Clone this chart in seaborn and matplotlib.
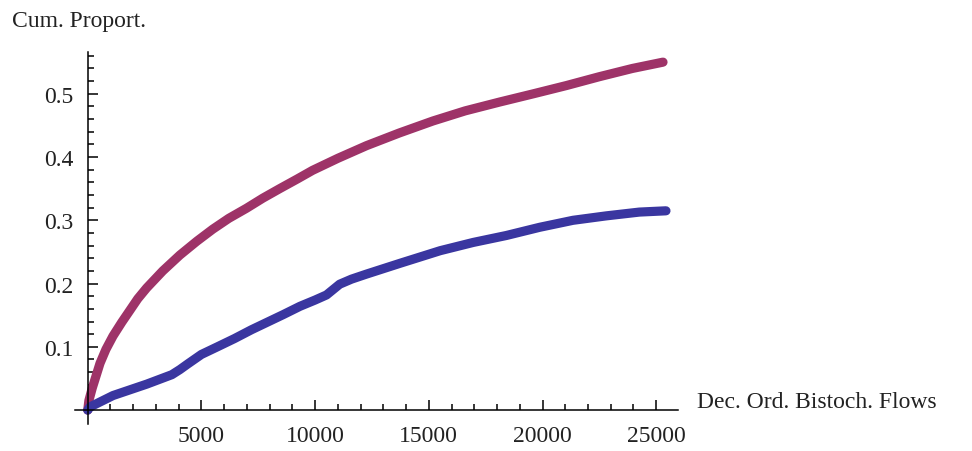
import matplotlib

matplotlib.use("Agg")
import matplotlib.pyplot as plt
import numpy as np
import seaborn as sns
from matplotlib.ticker import FixedLocator

# values
upper_x = [0, 50, 200, 540, 800, 1110, 1500, 1860, 2200, 2590, 3300, 4050, 4800,
           5500, 6200, 6980, 7700, 8440, 9200, 9890, 11000, 12260, 13700, 15180,
           16600, 18120, 19600, 21050, 22500, 23950, 25300]
upper_y = [0.0, 0.015, 0.035, 0.074, 0.096, 0.117, 0.139, 0.158, 0.176, 0.193,
           0.220, 0.245, 0.267, 0.286, 0.303, 0.319, 0.335, 0.350, 0.365, 0.379,
           0.398, 0.418, 0.438, 0.457, 0.473, 0.487, 0.500, 0.513, 0.527, 0.540,
           0.550]

lower_x = [0, 100, 1110, 2590, 3700, 4050, 4400, 5000, 5700, 6450, 7200, 7900,
           8600, 9330, 10000, 10500, 11080, 11600, 12260, 13730, 15500, 16950,
           18410, 19880, 21340, 22800, 24260, 25430]
lower_y = [0.0, 0.005, 0.023, 0.041, 0.056, 0.064, 0.073, 0.088, 0.100, 0.113,
           0.127, 0.139, 0.151, 0.164, 0.174, 0.182, 0.199, 0.207, 0.215, 0.232,
           0.252, 0.265, 0.276, 0.289, 0.300, 0.307, 0.313, 0.315]

x_ticks = [5000, 10000, 15000, 20000, 25000]
y_ticks = [0.1, 0.2, 0.3, 0.4, 0.5]
x_label = "Dec. Ord. Bistoch. Flows"
y_label = "Cum. Proport."

sns.set_theme(style="white")
plt.rcParams["font.family"] = ["Liberation Serif", "DejaVu Serif"]

fig = plt.figure(figsize=(9.72, 4.52), dpi=100)
ax = fig.add_axes([0.0774, 0.0597, 0.6204, 0.823])

sns.lineplot(x=upper_x, y=upper_y, color="#9E3368", linewidth=6.6,
             solid_capstyle="round", solid_joinstyle="round", ax=ax)
sns.lineplot(x=lower_x, y=lower_y, color="#3A36A0", linewidth=6.6,
             solid_capstyle="round", solid_joinstyle="round", ax=ax)

ax.set_xlim(-550, 25970)
ax.set_ylim(-0.022, 0.566)

for side in ["top", "right"]:
    ax.spines[side].set_visible(False)
for side in ["left", "bottom"]:
    ax.spines[side].set_position(("data", 0))
    ax.spines[side].set_color("black")
    ax.spines[side].set_linewidth(1.1)

ax.xaxis.set_major_locator(FixedLocator(x_ticks))
ax.yaxis.set_major_locator(FixedLocator(y_ticks))
ax.xaxis.set_minor_locator(FixedLocator(np.arange(1000, 25001, 1000)))
ax.yaxis.set_minor_locator(FixedLocator(np.arange(0.02, 0.565, 0.02)))
ax.set_xticklabels([str(t) for t in x_ticks])
ax.set_yticklabels([f"{t:.1f}" for t in y_ticks])

ax.tick_params(which="both", direction="in", color="black", width=1.1,
               labelsize=17, labelcolor="#222222", bottom=True, left=True)
ax.tick_params(which="major", length=7)
ax.tick_params(which="minor", length=4)
ax.tick_params(axis="x", which="major", pad=10.5)
ax.tick_params(axis="y", which="major", pad=10)

ax.set_xlabel("")
ax.set_ylabel("")
fig.text(0.717, 0.097, x_label, fontsize=17, color="#222222", va="baseline")
fig.text(0.012, 0.953, y_label, fontsize=17, color="#222222", va="center")

fig.savefig("out.png", dpi=100, facecolor="white")
